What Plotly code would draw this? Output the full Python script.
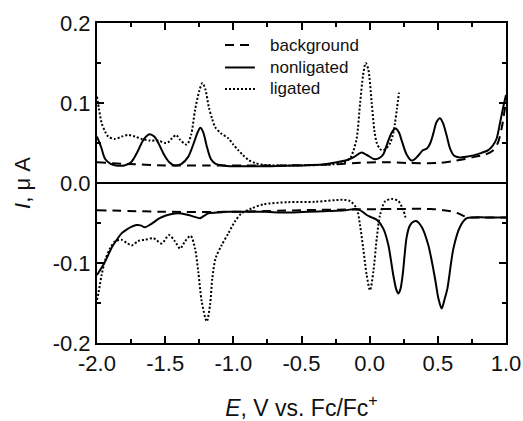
import plotly.graph_objects as go

# Potential axis (V vs. Fc/Fc+) and tick labels
x_ticks = [-2.0, -1.5, -1.0, -0.5, 0.0, 0.5, 1.0]
x_ticktext = ["-2.0", "-1.5", "-1.0", "-0.5", "0.0", "0.5", "1.0"]
y_ticks = [-0.2, -0.1, 0.0, 0.1, 0.2]
y_ticktext = ["-0.2", "-0.1", "0.0", "0.1", "0.2"]

# Background electrolyte: oxidative (upper) and reductive (lower) sweeps
bg_up_x = [-2.0, -1.8, -1.5, -1.2, -0.9, -0.6, -0.3, -0.1, 0.1, 0.3, 0.5, 0.6, 0.7, 0.78, 0.84, 0.9, 0.94, 0.97, 1.0]
bg_up_y = [0.026, 0.024, 0.022, 0.022, 0.022, 0.022, 0.023, 0.025, 0.026, 0.025, 0.025, 0.027, 0.030, 0.033, 0.035, 0.040, 0.050, 0.070, 0.103]
bg_dn_x = [-2.0, -1.5, -1.0, -0.5, -0.1, 0.2, 0.45, 0.54, 0.614, 0.65, 0.687, 0.72, 0.8, 1.0]
bg_dn_y = [-0.034, -0.036, -0.036, -0.034, -0.033, -0.0325, -0.0325, -0.034, -0.036, -0.038, -0.041, -0.043, -0.043, -0.043]

# Nonligated complex
nl_up_x = [-2.0, -1.97, -1.94, -1.90, -1.86, -1.80, -1.75, -1.70, -1.66, -1.615, -1.58, -1.55, -1.51, -1.47,
           -1.43, -1.38, -1.33, -1.29, -1.265, -1.242, -1.22, -1.195, -1.165, -1.13, -1.08, -1.0, -0.9, -0.73,
           -0.5, -0.35, -0.24, -0.16, -0.11, -0.06, -0.02, 0.03, 0.07, 0.10, 0.137, 0.165, 0.19, 0.215, 0.235,
           0.27, 0.308, 0.35, 0.39, 0.42, 0.445, 0.467, 0.49, 0.516, 0.54, 0.565, 0.59, 0.62, 0.66, 0.72, 0.81,
           0.87, 0.9, 0.93, 0.956, 0.98, 1.0]
nl_up_y = [0.058, 0.045, 0.030, 0.024, 0.022, 0.022, 0.026, 0.040, 0.054, 0.061, 0.058, 0.050, 0.036, 0.026,
           0.022, 0.024, 0.033, 0.050, 0.062, 0.069, 0.063, 0.046, 0.030, 0.024, 0.022, 0.021, 0.021, 0.021,
           0.022, 0.023, 0.026, 0.029, 0.033, 0.038, 0.035, 0.030, 0.031, 0.036, 0.053, 0.064, 0.068, 0.063, 0.053,
           0.036, 0.028, 0.033, 0.041, 0.043, 0.050, 0.062, 0.076, 0.081, 0.074, 0.059, 0.043, 0.034, 0.032, 0.033, 0.037,
           0.041, 0.046, 0.055, 0.075, 0.095, 0.110]
nl_dn_x = [-2.0, -1.97, -1.94, -1.89, -1.855, -1.82, -1.78, -1.745, -1.71, -1.68, -1.648, -1.61, -1.575, -1.54,
           -1.50, -1.46, -1.428, -1.38, -1.33, -1.29, -1.245, -1.215, -1.184, -1.12, -1.04, -0.9, -0.78, -0.6,
           -0.45, -0.3, -0.18, -0.095, -0.06, -0.022, 0.015, 0.052, 0.10, 0.137, 0.173, 0.195, 0.21, 0.225, 0.242,
           0.27, 0.29, 0.308, 0.34, 0.381, 0.43, 0.479, 0.505, 0.528, 0.55, 0.57, 0.614, 0.663, 0.712, 0.76, 0.85, 1.0]
nl_dn_y = [-0.115, -0.107, -0.098, -0.080, -0.071, -0.063, -0.058, -0.0546, -0.0525, -0.053, -0.0554, -0.052,
           -0.048, -0.044, -0.041, -0.039, -0.038, -0.038, -0.040, -0.042, -0.044, -0.041, -0.038, -0.037, -0.036,
           -0.036, -0.036, -0.037, -0.036, -0.035, -0.034, -0.0325, -0.035, -0.040, -0.043, -0.046, -0.057, -0.0775,
           -0.115, -0.133, -0.138, -0.133, -0.115, -0.069, -0.055, -0.050, -0.0475, -0.0546, -0.0775, -0.119, -0.145,
           -0.157, -0.145, -0.132, -0.082, -0.0546, -0.044, -0.043, -0.043, -0.043]

# Ligated complex
lig_up_x = [-2.0, -1.985, -1.966, -1.94, -1.917, -1.87, -1.82, -1.77, -1.72, -1.67, -1.61, -1.55, -1.50, -1.477,
            -1.45, -1.42, -1.39, -1.342, -1.31, -1.281, -1.25, -1.227, -1.205, -1.18, -1.155, -1.134, -1.09,
            -1.037, -1.0, -0.964, -0.93, -0.89, -0.84, -0.79, -0.7, -0.5, -0.3, -0.2, -0.144, -0.12, -0.095,
            -0.07, -0.048, -0.029, -0.01, 0.015, 0.035, 0.052, 0.07, 0.088, 0.12, 0.15, 0.17, 0.186, 0.20, 0.215]
lig_up_y = [0.108, 0.092, 0.075, 0.064, 0.058, 0.055, 0.058, 0.060, 0.058, 0.055, 0.053, 0.053, 0.050, 0.051,
            0.056, 0.060, 0.054, 0.048, 0.060, 0.091, 0.115, 0.125, 0.117, 0.095, 0.080, 0.070, 0.062,
            0.056, 0.048, 0.041, 0.035, 0.029, 0.025, 0.023, 0.022, 0.022, 0.023, 0.025, 0.031, 0.040, 0.056,
            0.100, 0.135, 0.150, 0.142, 0.100, 0.065, 0.050, 0.044, 0.041, 0.043, 0.050, 0.060, 0.075, 0.093, 0.113]
lig_dn_x = [-2.0, -1.99, -1.966, -1.94, -1.905, -1.868, -1.82, -1.78, -1.745, -1.697, -1.648, -1.587, -1.525,
            -1.472, -1.428, -1.39, -1.355, -1.313, -1.281, -1.257, -1.232, -1.195, -1.171, -1.154, -1.13, -1.085,
            -1.037, -0.988, -0.94, -0.865, -0.78, -0.6, -0.4, -0.2, -0.144, -0.095, -0.071, -0.047, -0.022, 0.0025,
            0.027, 0.052, 0.076, 0.113, 0.162, 0.21, 0.247, 0.267]
lig_dn_y = [-0.146, -0.138, -0.115, -0.096, -0.082, -0.073, -0.071, -0.075, -0.078, -0.0725, -0.071, -0.069,
            -0.0755, -0.065, -0.073, -0.082, -0.073, -0.066, -0.082, -0.111, -0.148, -0.173, -0.1525, -0.119, -0.094,
            -0.0775, -0.063, -0.048, -0.038, -0.0317, -0.0267, -0.024, -0.0235, -0.021, -0.0225, -0.032, -0.0525,
            -0.082, -0.115, -0.134, -0.111, -0.069, -0.040, -0.023, -0.020, -0.0225, -0.034, -0.046]

FONT = "Liberation Sans, Arial, Helvetica, sans-serif"
INK = "#111"


def joined(xa, ya, xb, yb):
    """Join two sweeps into one trace, separated by a gap."""
    return list(xa) + [None] + list(xb), list(ya) + [None] + list(yb)


series = [
    ("background", bg_up_x, bg_up_y, bg_dn_x, bg_dn_y, "9px,6px"),
    ("nonligated", nl_up_x, nl_up_y, nl_dn_x, nl_dn_y, "solid"),
    ("ligated", lig_up_x, lig_up_y, lig_dn_x, lig_dn_y, "2px,2px"),
]

fig = go.Figure()
for name, xa, ya, xb, yb, dash in series:
    xs, ys = joined(xa, ya, xb, yb)
    fig.add_trace(go.Scatter(
        x=xs, y=ys, name=name, mode="lines", connectgaps=False, showlegend=False,
        line=dict(color="black", width=2, dash=dash, shape="spline", smoothing=0.8),
    ))

# Key drawn inside the plot area, near the top centre (paper coordinates)
key_line_x = (0.313, 0.386)
key_text_x = 0.418
key_rows_y = [0.931, 0.861, 0.794]
for (name, *_rest, dash), ky in zip(series, key_rows_y):
    fig.add_shape(type="line", xref="paper", yref="paper",
                  x0=key_line_x[0], x1=key_line_x[1], y0=ky, y1=ky,
                  line=dict(color="black", width=2, dash=dash))
    fig.add_annotation(xref="paper", yref="paper", x=key_text_x, y=ky,
                       xanchor="left", yanchor="middle", text=name, showarrow=False,
                       font=dict(family=FONT, size=17, color=INK))

axis_common = dict(
    showline=True, linecolor="black", linewidth=2, mirror="ticks", automargin=False,
    ticks="inside", ticklen=7, tickwidth=1.5, tickcolor="black",
    showgrid=False, tickfont=dict(family=FONT, size=22, color=INK),
)

fig.update_xaxes(
    range=[-2.0, 1.0], tickvals=x_ticks, ticktext=x_ticktext, zeroline=False,
    minor=dict(ticks="inside", ticklen=4, dtick=0.25, tick0=0, tickwidth=1.5, tickcolor="black"),
    title=dict(text="<i>E</i>, V vs. Fc/Fc<sup>+</sup>", font=dict(family=FONT, size=23, color=INK), standoff=40),
    **axis_common,
)
fig.update_yaxes(
    range=[-0.2, 0.2], tickvals=y_ticks, ticktext=y_ticktext,
    zeroline=True, zerolinecolor="black", zerolinewidth=2,
    minor=dict(ticks="inside", ticklen=4, dtick=0.05, tick0=0, tickwidth=1.5, tickcolor="black"),
    title=dict(text="<i>I</i>, μ A", font=dict(family=FONT, size=22, color=INK), standoff=16),
    **axis_common,
)

fig.update_layout(
    width=523, height=421,
    margin=dict(l=97, r=17, t=23, b=78),
    paper_bgcolor="white", plot_bgcolor="white",
    showlegend=False,
)

fig.write_html("out.html")
